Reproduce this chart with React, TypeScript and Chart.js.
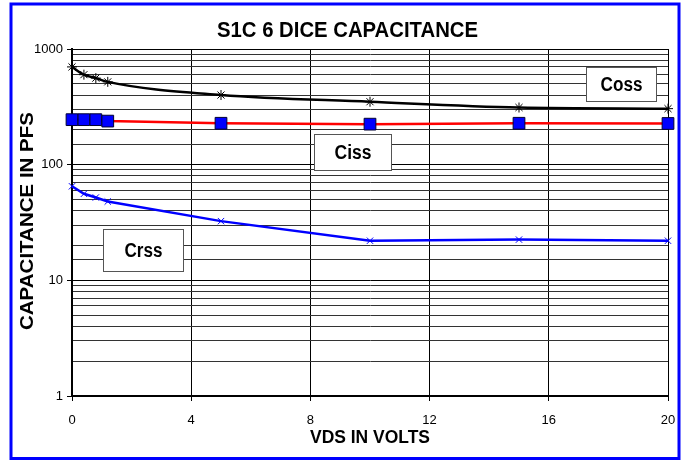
import React, { useEffect, useRef } from "react";
import { Chart, registerables } from "chart.js";

Chart.register(...registerables);

const vds = [0, 0.4, 0.8, 1.2, 5, 10, 15, 20];
const coss = [700, 600, 560, 520, 400, 350, 312, 305];
const ciss = [245, 245, 245, 238, 228, 224, 228, 227];
const crss = [65, 56, 52, 48, 32.5, 22, 22.5, 22];
const xTicks = [0, 4, 8, 12, 16, 20];
const yLabels = [1, 10, 100, 1000];

const chartTitle = "S1C 6 DICE CAPACITANCE";
const yTitle = "CAPACITANCE IN PFS";
const xTitle = "VDS IN VOLTS";

const FONT = 'Arial, "Liberation Sans", sans-serif';

function fitText(
  ctx: CanvasRenderingContext2D,
  text: string,
  cx: number,
  cy: number,
  font: string,
  w: number,
  rot = 0
) {
  ctx.save();
  ctx.font = font;
  const m = ctx.measureText(text).width;
  ctx.translate(cx, cy);
  ctx.rotate(rot);
  ctx.scale(w / m, 1);
  ctx.textAlign = "center";
  ctx.textBaseline = "middle";
  ctx.fillStyle = "#000";
  ctx.fillText(text, 0, 0);
  ctx.restore();
}

function box(
  ctx: CanvasRenderingContext2D,
  x0: number,
  y0: number,
  x1: number,
  y1: number,
  text: string,
  tw: number
) {
  ctx.save();
  ctx.fillStyle = "#fff";
  ctx.fillRect(x0, y0, x1 - x0, y1 - y0);
  ctx.strokeStyle = "#555";
  ctx.lineWidth = 1;
  ctx.strokeRect(x0 + 0.5, y0 + 0.5, x1 - x0 - 1, y1 - y0 - 1);
  ctx.restore();
  fitText(ctx, text, (x0 + x1) / 2, (y0 + y1) / 2 + 1, `bold 20px ${FONT}`, tw);
}

const decorPlugin = {
  id: "decor",
  afterDraw(chart: any) {
    const ctx = chart.ctx as CanvasRenderingContext2D;
    fitText(ctx, chartTitle, 347.5, 31, `bold 22px ${FONT}`, 261);
    fitText(ctx, yTitle, 28.5, 221, `bold 18px ${FONT}`, 218, -Math.PI / 2);
    fitText(ctx, xTitle, 370, 438, `bold 19px ${FONT}`, 120);
    box(ctx, 586, 67, 657, 102, "Coss", 42);
    box(ctx, 314, 134, 392, 171, "Ciss", 37);
    box(ctx, 103, 229, 184, 272, "Crss", 38);
    ctx.save();
    ctx.strokeStyle = "#0000ff";
    ctx.lineWidth = 3;
    ctx.strokeRect(11, 4, 668, 454.5);
    ctx.restore();
  },
};

const isDecade = (v: number) => {
  const l = Math.log10(v);
  return Math.abs(l - Math.round(l)) < 1e-9;
};

export default function App() {
  const ref = useRef<HTMLCanvasElement>(null);
  useEffect(() => {
    document.body.style.margin = "0";
    Chart.defaults.font.family = FONT;
    const pts = (arr: number[]) => vds.map((x, i) => ({ x, y: arr[i] }));
    const chart = new Chart(ref.current as HTMLCanvasElement, {
      type: "line",
      data: {
        datasets: [
          {
            label: "Crss",
            data: pts(crss),
            borderColor: "#0000ff",
            borderWidth: 2.5,
            pointStyle: "crossRot",
            pointRadius: 4.5,
            pointBorderColor: "#0000ff",
            pointBorderWidth: 1,
            tension: 0,
            clip: false,
          } as any,
          {
            label: "Coss",
            data: pts(coss),
            borderColor: "#000",
            borderWidth: 2.5,
            pointStyle: "star",
            pointRadius: 5,
            pointBorderColor: "#000",
            pointBorderWidth: 1,
            cubicInterpolationMode: "monotone",
            clip: false,
          } as any,
          {
            label: "Ciss",
            data: pts(ciss),
            borderColor: "#ff0000",
            borderWidth: 2.5,
            pointStyle: "rect",
            pointRadius: 8.3,
            pointBackgroundColor: "#0000ff",
            pointBorderColor: "#000033",
            pointBorderWidth: 1,
            tension: 0,
            clip: false,
          } as any,
        ],
      },
      options: {
        responsive: false,
        animation: false,
        layout: { autoPadding: false, padding: { left: 0, top: 49, right: 20, bottom: 0 } } as any,
        plugins: {
          legend: { display: false },
          tooltip: { enabled: false },
          title: { display: false },
        },
        scales: {
          x: {
            type: "linear",
            min: 0,
            max: 20,
            afterFit: (s: any) => {
              s.height = 64;
            },
            afterBuildTicks: (s: any) => {
              s.ticks = xTicks.map((v) => ({ value: v }));
            },
            ticks: {
              color: "#000",
              font: { size: 13 },
              padding: 12,
              maxRotation: 0,
              autoSkip: false,
            },
            grid: {
              color: "#000",
              lineWidth: 1,
              tickLength: 5,
              tickColor: "#000",
            },
            border: { color: "#000", width: 2 },
          },
          y: {
            type: "logarithmic",
            min: 1,
            max: 1000,
            afterFit: (s: any) => {
              s.width = 72;
            },
            ticks: {
              color: "#000",
              font: { size: 13 },
              padding: 4,
              autoSkip: false,
              callback: (v: any) => (yLabels.includes(Number(v)) ? String(v) : ""),
            },
            grid: {
              color: (c: any) => (c.tick && isDecade(c.tick.value) ? "#000" : "#333"),
              lineWidth: 1,
              tickLength: 5,
              tickColor: (c: any) =>
                c.tick && isDecade(c.tick.value) ? "#000" : "rgba(0,0,0,0)",
            },
            border: { color: "#000", width: 2 },
          },
        },
      },
      plugins: [decorPlugin],
    } as any);
    return () => chart.destroy();
  }, []);
  return <canvas ref={ref} width={688} height={460} style={{ display: "block" }} />;
}
